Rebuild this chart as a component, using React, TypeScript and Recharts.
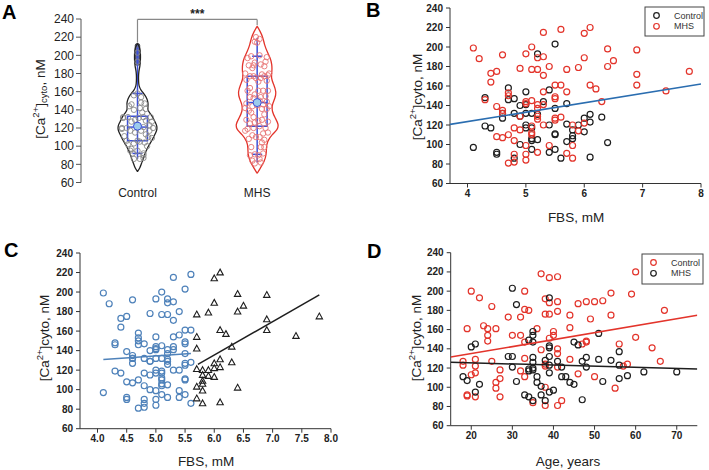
import React from 'react';
import { ComposedChart, Scatter, XAxis, YAxis, ReferenceLine, ReferenceArea, Label } from 'recharts';

const FONT = '"Liberation Sans", Arial, sans-serif';

// ---------- data ----------
const categories = ['Control', 'MHS'];
const yTicks = [60, 80, 100, 120, 140, 160, 180, 200, 220, 240];
const fbsTicksB = [4, 5, 6, 7, 8];
const fbsTicksC = [4, 4.5, 5, 5.5, 6, 6.5, 7, 7.5, 8];
const ageTicks = [20, 30, 40, 50, 60, 70];

// [FBS mM, Ca nM]
const controlFbsCa: [number, number][] = [
  [4.1, 97], [4.3, 148], [4.3, 119], [4.4, 117], [4.5, 92], [4.5, 90], [4.6, 132], [4.6, 127], [4.7, 158], [4.7, 146],
  [4.8, 147], [4.8, 132], [4.8, 86], [4.9, 140], [4.9, 129], [4.9, 100], [5.0, 154], [5.0, 141], [5.0, 132], [5.0, 120],
  [5.0, 117], [5.1, 132], [5.1, 117], [5.1, 106], [5.1, 104], [5.1, 95], [5.2, 193], [5.2, 131], [5.2, 105], [5.3, 144],
  [5.4, 156], [5.4, 120], [5.4, 92], [5.5, 203], [5.5, 137], [5.5, 111], [5.5, 110], [5.5, 95], [5.6, 86], [5.7, 142],
  [5.7, 121], [5.7, 103], [5.8, 115], [5.8, 109], [5.8, 106], [5.9, 120], [6.0, 127], [6.0, 113], [6.1, 131], [6.1, 123],
  [6.1, 87], [6.3, 128], [6.4, 102],
];
const mhsFbsCa: [number, number][] = [
  [4.1, 199], [4.2, 188], [4.4, 173], [4.5, 175], [4.4, 164], [4.6, 192], [4.9, 178], [5.0, 193], [5.1, 200], [5.1, 177],
  [5.2, 177], [5.2, 189], [5.3, 215], [5.3, 190], [5.3, 171], [5.4, 180], [5.6, 218], [5.7, 177], [5.9, 179], [6.0, 214],
  [6.0, 189], [6.1, 220], [6.4, 198], [6.4, 180], [6.5, 186], [6.9, 197], [6.9, 172], [6.9, 161], [7.8, 175], [7.4, 155],
  [6.3, 144], [6.1, 161], [6.2, 157], [5.5, 161], [5.6, 161], [5.7, 154], [5.3, 154], [5.5, 149], [5.5, 147], [4.3, 146],
  [4.7, 153], [4.7, 150], [4.5, 139], [4.6, 135], [4.6, 132], [5.0, 144], [5.0, 142], [5.1, 145], [5.2, 141], [5.2, 137],
  [5.3, 141], [4.9, 129], [5.2, 129], [5.2, 126], [5.5, 127], [5.5, 125], [5.6, 128], [5.1, 119], [5.3, 120], [6.0, 122],
  [5.8, 120], [5.9, 114], [4.8, 117], [4.9, 115], [5.1, 112], [5.1, 110], [4.5, 108], [4.6, 107], [4.7, 110], [4.8, 104],
  [5.0, 99], [5.4, 99], [5.8, 99], [5.7, 91], [5.2, 92], [5.0, 90], [4.8, 90], [4.7, 81], [4.8, 82], [5.0, 84],
  [5.8, 86],
];

// [Age years, Ca nM] (panel D, labels as in the original legend)
const dControlAgeCa: [number, number][] = [
  [18, 127], [18, 123], [19, 161], [19, 92], [20, 200], [20, 113], [21, 129], [21, 122], [21, 115], [21, 90],
  [22, 193], [23, 164], [24, 161], [24, 154], [24, 148], [25, 184], [25, 127], [26, 161], [26, 105], [26, 99],
  [27, 118], [27, 109], [27, 90], [29, 173], [30, 154], [32, 154], [32, 117], [32, 173], [33, 200], [33, 181],
  [33, 147], [33, 130], [33, 111], [34, 180], [36, 161], [37, 139], [37, 218], [38, 192], [38, 176], [38, 124],
  [38, 122], [38, 100], [38, 81], [39, 214], [39, 188], [39, 176], [39, 151], [40, 158], [40, 154], [41, 215],
  [41, 189], [41, 179], [41, 140], [41, 135], [41, 121], [41, 81], [42, 86], [44, 175], [44, 162], [44, 129],
  [46, 187], [46, 114], [47, 145], [48, 189], [48, 148], [48, 147], [49, 171], [50, 189], [50, 111], [52, 190],
  [54, 198], [54, 175], [55, 99], [56, 145], [57, 122], [58, 124], [59, 197], [60, 220], [60, 152], [64, 141],
  [66, 127], [67, 180], [19, 91], [35, 84],
];
const dMhsAgeCa: [number, number][] = [
  [18, 111], [19, 107], [20, 142], [21, 145], [21, 95], [22, 103], [30, 203], [31, 186], [29, 132], [30, 132],
  [30, 121], [31, 106], [33, 92], [34, 90], [34, 149], [34, 119], [34, 117], [35, 158], [35, 154], [35, 147],
  [35, 131], [35, 126], [35, 120], [35, 118], [35, 86], [36, 111], [36, 105], [37, 101], [37, 92], [38, 128],
  [38, 86], [39, 193], [39, 143], [39, 141], [39, 132], [39, 123], [39, 115], [39, 95], [40, 97], [41, 127],
  [42, 121], [42, 111], [43, 111], [44, 105], [45, 103], [45, 147], [46, 144], [47, 127], [47, 87], [48, 131],
  [48, 121], [51, 156], [51, 129], [52, 106], [54, 128], [56, 137], [56, 123], [56, 109], [58, 112], [62, 116],
  [70, 116],
];

// horizontal jitter (category units) of the dots in panel A
const controlJitter = [
  -0.05, 0.03, -0.13, 0.1, -0.04, 0.05, -0.08, 0.12, 0.0, -0.05,
  0.06, 0.05, 0.02, -0.03, -0.02, 0.08, 0.03, 0.07, -0.12, 0.13,
  -0.06, 0.11, 0.03, -0.09, 0.06, 0.0, 0.0, 0.01, 0.02, -0.07,
  -0.03, -0.13, 0.05, 0.0, 0.04, -0.11, 0.09, -0.06, -0.03, 0.02,
  0.05, -0.03, -0.02, 0.12, 0.0, -0.09, -0.05, 0.07, -0.12, 0.1,
  0.05, 0.07, -0.08,
];
const mhsJitter = [
  -0.05, 0.06, -0.09, 0.03, -0.06, -0.02, 0.09, 0.07, 0.02, -0.03,
  0.06, -0.07, -0.02, 0.03, 0.01, -0.1, 0.02, -0.06, 0.04, 0.0,
  -0.03, -0.01, 0.08, 0.1, -0.04, -0.08, 0.08, -0.08, -0.01, 0.07,
  -0.04, 0.05, -0.02, 0.01, 0.09, -0.06, 0.03, 0.08, -0.09, 0.05,
  -0.03, 0.02, -0.07, 0.06, -0.03, 0.1, -0.1, 0.0, 0.04, -0.05,
  0.08, -0.09, 0.04, -0.02, 0.09, -0.06, 0.01, -0.08, 0.07, 0.02,
  -0.03, 0.05, -0.1, 0.09, -0.04, 0.02, -0.07, 0.06, -0.01, 0.04,
  -0.05, 0.03, 0.06, -0.02, 0.05, -0.06, 0.01, -0.02, 0.03, -0.04,
  0.02,
];

// violin half-width profiles: [Ca nM, half width in category units]
const violinControl: [number, number][] = [
  [72, 0], [76, 0.021], [81, 0.033], [85, 0.046], [89, 0.055], [93, 0.066], [96, 0.077], [100, 0.091], [103, 0.105],
  [107, 0.124], [111, 0.138], [115, 0.153], [118, 0.163], [122, 0.163], [125, 0.153], [129, 0.137], [133, 0.124],
  [137, 0.099], [140, 0.085], [144, 0.088], [148, 0.089], [152, 0.079], [155, 0.069], [159, 0.046], [162, 0.027],
  [165, 0.017], [168, 0.01], [175, 0.008], [182, 0.01], [188, 0.021], [195, 0.025], [202, 0.025], [207, 0.021],
  [211, 0.01], [213, 0],
];
const violinMhs: [number, number][] = [
  [70, 0], [76, 0.027], [83, 0.06], [91, 0.077], [98, 0.077], [105, 0.083], [113, 0.124], [118, 0.171], [124, 0.18],
  [131, 0.151], [138, 0.124], [146, 0.124], [153, 0.151], [160, 0.16], [168, 0.138], [175, 0.116], [182, 0.124],
  [190, 0.124], [197, 0.11], [204, 0.083], [212, 0.06], [219, 0.05], [226, 0.027], [232, 0],
];
// dense upper tail of the control violin: [low, high, half width]
const controlNeck: [number, number, number] = [189, 213, 0.019];

const boxStats = [
  { pos: 1, lineLow: 86, capLow: 92, q1: 106, median: 121, q3: 133, capHigh: 158, lineHigh: 208, mean: 122 },
  { pos: 2, lineLow: 82, capLow: 91, q1: 122, median: 148, q3: 177, capHigh: 199, lineHigh: 219, mean: 148 },
];

// fitted regression lines (end points)
const regB: [number, number][] = [[3.7, 120.6], [8, 162]];
const regCLow: [number, number][] = [[4.1, 131], [5.6, 137]];
const regCHigh: [number, number][] = [[5.72, 126], [7.8, 197]];
const regDControl: [number, number][] = [[15, 131.4], [75, 174.8]];
const regDMhs: [number, number][] = [[15, 126], [75, 119]];
const FBS_SPLIT = 5.65;

// ---------- helpers ----------
const RED = '#e3342b';
const BLACK = '#1e1e1e';
const BLUE_C = '#4f82ba';
const BOX_BLUE = '#3d50d8';

const toPts = (arr: [number, number][]) => arr.map(([x, y]) => ({ x, y }));

const ring = (stroke: string, r = 3, sw = 1.2) => (p: any) =>
  p.cx == null ? <g /> : <circle cx={p.cx} cy={p.cy} r={r} fill="none" stroke={stroke} strokeWidth={sw} />;
const triangle = (p: any) =>
  p.cx == null ? <g /> : (
    <polygon
      points={`${p.cx},${p.cy - 3.4} ${p.cx + 3.2},${p.cy + 2.4} ${p.cx - 3.2},${p.cy + 2.4}`}
      fill="none"
      stroke={BLACK}
      strokeWidth={1.1}
    />
  );
const noShape = () => <g />;
const meanDot = (p: any) =>
  p.cx == null ? <g /> : <circle cx={p.cx} cy={p.cy} r={4} fill="#9ccbec" stroke={BOX_BLUE} strokeWidth={1} />;

const outline = (prof: [number, number][], c: number) => [
  ...prof.map(([y, w]) => ({ x: c - w, y })),
  ...prof.slice().reverse().map(([y, w]) => ({ x: c + w, y })),
];

const boldTick = { fontSize: 10, fontWeight: 'bold', fill: '#222', fontFamily: FONT };
const axisStroke = { stroke: '#333' };

// ---------- panels ----------
function PanelA() {
  const ctrlPts = controlFbsCa.map(([, y], i) => ({ x: 1 + controlJitter[i], y }));
  const mhsPts = mhsFbsCa.map(([, y], i) => ({ x: 2 + mhsJitter[i], y }));
  const bw = 0.083;
  const cw = 0.042;
  return (
    <ComposedChart width={330} height={230} margin={{ top: 19, right: 13, bottom: 0, left: 0 }}>
      <XAxis
        type="number"
        dataKey="x"
        domain={[0.528, 2.5]}
        ticks={[1, 2]}
        interval={0}
        allowDataOverflow
        tickFormatter={(v: number) => categories[Math.round(v) - 1]}
        axisLine={false}
        tickLine={false}
        tickSize={4}
        height={47.5}
        tick={{ fontSize: 12, fill: '#222', fontFamily: FONT }}
      />
      <YAxis
        type="number"
        dataKey="y"
        domain={[60, 240]}
        ticks={yTicks}
        interval={0}
        allowDataOverflow
        width={81}
        tickSize={5}
        axisLine={{ stroke: '#555' }}
        tickLine={{ stroke: '#555' }}
        tick={{ fontSize: 12, fill: '#222', fontFamily: FONT }}
      />
      <ReferenceArea x1={1 - controlNeck[2]} x2={1 + controlNeck[2]} y1={controlNeck[0]} y2={controlNeck[1]} fill="#4d57a3" fillOpacity={0.9} stroke="#333" strokeWidth={0.8} radius={2} ifOverflow="visible" />
      <Scatter data={outline(violinControl, 1)} line={{ stroke: '#222', strokeWidth: 1.3 }} lineJointType="basis" shape={noShape} isAnimationActive={false} />
      <Scatter data={outline(violinMhs, 2)} line={{ stroke: RED, strokeWidth: 1.3 }} lineJointType="basis" shape={noShape} isAnimationActive={false} />
      <Scatter data={ctrlPts} shape={ring('#8a8a8a', 2.7, 0.9)} isAnimationActive={false} />
      <Scatter data={mhsPts} shape={ring('#e87575', 2.7, 0.9)} isAnimationActive={false} />
      {boxStats.map((b) => (
        <ReferenceLine key={'w' + b.pos} segment={[{ x: b.pos, y: b.lineLow }, { x: b.pos, y: b.lineHigh }]} stroke={BOX_BLUE} strokeWidth={1.5} ifOverflow="visible" />
      ))}
      {boxStats.map((b) => (
        <ReferenceArea key={'b' + b.pos} x1={b.pos - bw} x2={b.pos + bw} y1={b.q1} y2={b.q3} fill="none" fillOpacity={0} stroke={BOX_BLUE} strokeWidth={1.5} ifOverflow="visible" />
      ))}
      {boxStats.map((b) => (
        <ReferenceLine key={'m' + b.pos} segment={[{ x: b.pos - bw, y: b.median }, { x: b.pos + bw, y: b.median }]} stroke={BOX_BLUE} strokeWidth={1.5} ifOverflow="visible" />
      ))}
      {boxStats.map((b) => (
        <ReferenceLine key={'cl' + b.pos} segment={[{ x: b.pos - cw, y: b.capLow }, { x: b.pos + cw, y: b.capLow }]} stroke={BOX_BLUE} strokeWidth={1.5} ifOverflow="visible" />
      ))}
      {boxStats.map((b) => (
        <ReferenceLine key={'ch' + b.pos} segment={[{ x: b.pos - cw, y: b.capHigh }, { x: b.pos + cw, y: b.capHigh }]} stroke={BOX_BLUE} strokeWidth={1.5} ifOverflow="visible" />
      ))}
      <Scatter data={boxStats.map((b) => ({ x: b.pos, y: b.mean }))} shape={meanDot} isAnimationActive={false} />
      <ReferenceLine segment={[{ x: 1, y: 239.5 }, { x: 2, y: 239.5 }]} stroke="#888" strokeWidth={1.2} ifOverflow="visible">
        <Label value="***" position="top" offset={1} style={{ fontSize: 12, fontWeight: 'bold', fill: '#222', fontFamily: FONT }} />
      </ReferenceLine>
      <ReferenceLine segment={[{ x: 1, y: 239.5 }, { x: 1, y: 214 }]} stroke="#888" strokeWidth={1.2} ifOverflow="visible" />
      <ReferenceLine segment={[{ x: 2, y: 239.5 }, { x: 2, y: 233 }]} stroke="#888" strokeWidth={1.2} ifOverflow="visible" />
    </ComposedChart>
  );
}

function PanelB() {
  return (
    <ComposedChart width={354} height={230} margin={{ top: 8, right: 8, bottom: 0, left: 0 }}>
      <XAxis type="number" dataKey="x" domain={[3.7, 8]} ticks={fbsTicksB} interval={0} allowDataOverflow height={46.5} tickSize={4} axisLine={axisStroke} tickLine={axisStroke} tick={boldTick} />
      <YAxis type="number" dataKey="y" domain={[60, 240]} ticks={yTicks} interval={0} allowDataOverflow width={95} tickSize={4} tickMargin={3} axisLine={axisStroke} tickLine={axisStroke} tick={boldTick} />
      <Scatter data={toPts(controlFbsCa)} shape={ring(BLACK)} isAnimationActive={false} />
      <Scatter data={toPts(mhsFbsCa)} shape={ring(RED)} isAnimationActive={false} />
      <Scatter data={toPts(regB)} line={{ stroke: '#2a6db0', strokeWidth: 1.6 }} shape={noShape} isAnimationActive={false} />
    </ComposedChart>
  );
}

function PanelC() {
  const all = [...controlFbsCa, ...mhsFbsCa];
  const low = all.filter(([x]) => x < FBS_SPLIT);
  const high = all.filter(([x]) => x >= FBS_SPLIT);
  return (
    <ComposedChart width={355} height={235} margin={{ top: 18, right: 24, bottom: 0, left: 0 }}>
      <XAxis type="number" dataKey="x" domain={[3.7, 8]} ticks={fbsTicksC} interval={0} allowDataOverflow height={41.3} tickSize={4} axisLine={axisStroke} tickLine={axisStroke} tick={boldTick} tickFormatter={(v: number) => v.toFixed(1)} />
      <YAxis type="number" dataKey="y" domain={[60, 240]} ticks={yTicks} interval={0} allowDataOverflow width={80} tickSize={4} tickMargin={3} axisLine={axisStroke} tickLine={axisStroke} tick={boldTick} />
      <Scatter data={toPts(low)} shape={ring(BLUE_C)} isAnimationActive={false} />
      <Scatter data={toPts(high)} shape={triangle} isAnimationActive={false} />
      <Scatter data={toPts(regCLow)} line={{ stroke: BLUE_C, strokeWidth: 1.5 }} shape={noShape} isAnimationActive={false} />
      <Scatter data={toPts(regCHigh)} line={{ stroke: BLACK, strokeWidth: 1.5 }} shape={noShape} isAnimationActive={false} />
    </ComposedChart>
  );
}

function PanelD() {
  return (
    <ComposedChart width={354} height={235} margin={{ top: 17.7, right: 11.7, bottom: 0, left: 0 }}>
      <XAxis type="number" dataKey="x" domain={[15, 75]} ticks={ageTicks} interval={0} allowDataOverflow height={44.3} tickSize={4} axisLine={axisStroke} tickLine={axisStroke} tick={boldTick} />
      <YAxis type="number" dataKey="y" domain={[60, 240]} ticks={yTicks} interval={0} allowDataOverflow width={95.7} tickSize={4} tickMargin={3} axisLine={axisStroke} tickLine={axisStroke} tick={boldTick} />
      <Scatter data={toPts(dControlAgeCa)} shape={ring(RED)} isAnimationActive={false} />
      <Scatter data={toPts(dMhsAgeCa)} shape={ring(BLACK)} isAnimationActive={false} />
      <Scatter data={toPts(regDControl)} line={{ stroke: RED, strokeWidth: 1.5 }} shape={noShape} isAnimationActive={false} />
      <Scatter data={toPts(regDMhs)} line={{ stroke: BLACK, strokeWidth: 1.5 }} shape={noShape} isAnimationActive={false} />
    </ComposedChart>
  );
}

function CaTitle({ x, y, sub }: { x: number; y: number; sub?: boolean }) {
  return (
    <text transform={`translate(${x},${y}) rotate(-90)`} textAnchor="middle" dominantBaseline="central" fontSize={13.5} fill="#222" fontFamily={FONT}>
      [Ca
      <tspan dy={-5} fontSize={9.5}>2+</tspan>
      {sub ? (
        <>
          <tspan dy={5}>]</tspan>
          <tspan dy={3} fontSize={9.5}>cyto</tspan>
          <tspan dy={-3}>, nM</tspan>
        </>
      ) : (
        <tspan dy={5}>]cyto, nM</tspan>
      )}
    </text>
  );
}

function LegendBox({ x, y, w, h, items }: { x: number; y: number; w: number; h: number; items: { label: string; color: string }[] }) {
  return (
    <g>
      <rect x={x} y={y} width={w} height={h} fill="#fff" stroke="#444" strokeWidth={1} />
      {items.map((it, i) => (
        <g key={it.label}>
          <circle cx={x + 11.5} cy={y + 8.5 + i * 10.8} r={2.8} fill="none" stroke={it.color} strokeWidth={1.2} />
          <text x={x + 29} y={y + 8.5 + i * 10.8} dominantBaseline="central" fontSize={9} fill="#333" fontFamily={FONT}>
            {it.label}
          </text>
        </g>
      ))}
    </g>
  );
}

function Overlay() {
  const letter = { fontSize: 20, fontWeight: 'bold' as const, fill: '#000', fontFamily: FONT };
  return (
    <svg width={709} height={470} style={{ position: 'absolute', left: 0, top: 0, pointerEvents: 'none' }}>
      <text x={2} y={19} {...letter}>A</text>
      <text x={366} y={17} {...letter}>B</text>
      <text x={4} y={257} {...letter}>C</text>
      <text x={367} y={258} {...letter}>D</text>
      <CaTitle x={40} y={99} sub />
      <CaTitle x={417} y={97} />
      <CaTitle x={44} y={338} />
      <CaTitle x={416} y={338} />
      <text x={576} y={222} textAnchor="middle" fontSize={13.5} fill="#222" fontFamily={FONT}>FBS, mM</text>
      <text x={206} y={466} textAnchor="middle" fontSize={13.5} fill="#222" fontFamily={FONT}>FBS, mM</text>
      <text x={568} y={466} textAnchor="middle" fontSize={13.5} fill="#222" fontFamily={FONT}>Age, years</text>
      <LegendBox x={645} y={7} w={59} h={29} items={[{ label: 'Control', color: BLACK }, { label: 'MHS', color: RED }]} />
      <LegendBox x={642} y={254} w={61} h={30} items={[{ label: 'Control', color: RED }, { label: 'MHS', color: BLACK }]} />
    </svg>
  );
}

export default function App() {
  return (
    <div style={{ position: 'absolute', left: 0, top: 0, width: 709, height: 470, background: '#fff', overflow: 'hidden', fontFamily: FONT }}>
      <div style={{ position: 'absolute', left: 0, top: 0 }}><PanelA /></div>
      <div style={{ position: 'absolute', left: 355, top: 0 }}><PanelB /></div>
      <div style={{ position: 'absolute', left: 0, top: 235 }}><PanelC /></div>
      <div style={{ position: 'absolute', left: 355, top: 235 }}><PanelD /></div>
      <Overlay />
    </div>
  );
}
